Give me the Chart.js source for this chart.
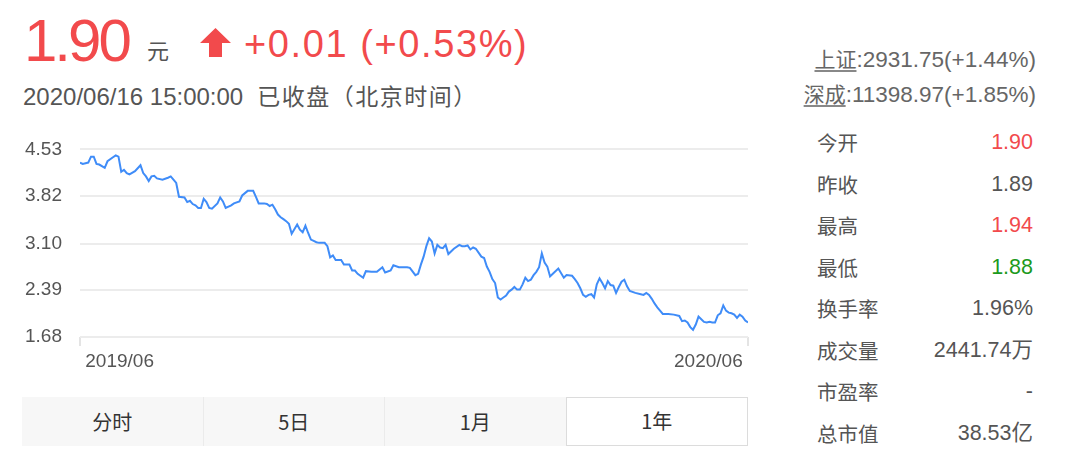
<!DOCTYPE html>
<html>
<head>
<meta charset="utf-8">
<script src="https://cdn.jsdelivr.net/npm/chart.js@4/dist/chart.umd.min.js"></script>
<style>
    body { margin: 0; background: #fff; font-family: "Liberation Sans", Arial, "Noto Sans CJK SC", sans-serif; color: #555; }
    #page { position: relative; width: 1080px; height: 452px; overflow: hidden; }
    .abs { position: absolute; white-space: nowrap; line-height: 1; }
    .red { color: #f24a4c; }
    .green { color: #1c9a1c; }
    .cjk { font-family: "Noto Sans CJK SC", sans-serif; }
    .idx { right: 44px; text-align: right; font-size: 22.5px; color: #666; }
    .idx u { font-size: 21px; text-decoration-color: #888; text-underline-offset: 3px; }
    #quote { position: absolute; left: 817px; top: 122px; width: 216px; }
    #quote .row { display: flex; justify-content: space-between; height: 41.5px; line-height: 41.5px; font-size: 21.5px; }
    #quote .label { font-family: "Noto Sans CJK SC", sans-serif; font-size: 20.5px; color: #555; }
    #tabs { position: absolute; left: 22px; top: 397px; width: 726px; height: 49px; display: flex; }
    #tabs div { flex: 1; background: #f7f7f7; border-left: 1px solid #ebebeb; text-align: center; line-height: 49px; font-size: 20px; color: #333; box-sizing: border-box; }
    #tabs div:first-child { border-left: none; }
    #tabs div.active { background: #fff; border: 1.5px solid #dcdcdc; line-height: 46px; }
    #chartBox { position: absolute; left: 0; top: 120px; width: 760px; height: 260px; }
</style>
</head>
<body>
<div id="page">
    <div class="abs red" style="left:24px; top:11px; font-size:60px; letter-spacing:-3px;">1.90</div>
    <div class="abs cjk" style="left:147px; top:38px; font-size:22px; color:#555;">元</div>
    <svg class="abs" style="left:200px; top:28px;" width="31" height="29" viewBox="0 0 31 29">
        <polygon points="15.5,0 31,15 22,15 22,29 9,29 9,15 0,15" fill="#f24a4c"/>
    </svg>
    <div class="abs red" style="left:244px; top:25px; font-size:38px; letter-spacing:1.6px;">+0.01 (+0.53%)</div>
    <div class="abs" style="left:23px; top:84px; font-size:24px; color:#555;">2020/06/16 15:00:00<span class="cjk" style="font-size:23px; letter-spacing:1.5px; margin-left:14px;">已收盘（北京时间）</span></div>

    <div class="abs idx" style="top:48px;"><u class="cjk">上证</u>:2931.75(+1.44%)</div>
    <div class="abs idx" style="top:83px;"><u class="cjk">深成</u>:11398.97(+1.85%)</div>

    <div id="quote"></div>

    <div id="chartBox"><canvas id="chart" width="760" height="260"></canvas></div>

    <div id="tabs">
        <div class="cjk">分时</div>
        <div class="cjk">5日</div>
        <div class="cjk">1月</div>
        <div class="cjk active">1年</div>
    </div>
</div>

<script>
// trading day number since 2019/06 and close price
const tradingDay = [
    0, 1, 3, 4, 5, 6, 7, 9, 10, 12,
    13, 14, 15, 16, 17, 18, 20, 22, 23, 24,
    25, 26, 27, 28, 30, 32, 33, 34, 35, 36,
    38, 39, 40, 41, 42, 43, 44, 45, 46, 47,
    48, 50, 51, 52, 53, 55, 56, 58, 59, 61,
    63, 64, 65, 67, 68, 69, 70, 71, 72, 73,
    74, 75, 76, 77, 79, 80, 81, 82, 83, 84,
    85, 86, 87, 89, 90, 91, 92, 93, 95, 96,
    98, 99, 100, 101, 103, 104, 106, 108, 110, 111,
    113, 114, 116, 119, 120, 122, 123, 124, 125, 126,
    127, 128, 129, 130, 131, 132, 133, 134, 136, 138,
    139, 140, 141, 142, 143, 144, 146, 147, 148, 149,
    150, 151, 152, 153, 154, 155, 156, 157, 158, 159,
    160, 161, 162, 163, 164, 165, 166, 167, 168, 169,
    170, 171, 172, 174, 176, 177, 179, 180, 181, 182,
    183, 184, 185, 186, 187, 188, 189, 190, 191, 192,
    193, 194, 195, 196, 197, 198, 199, 200, 202, 204,
    205, 206, 207, 208, 209, 210, 211, 212, 214, 216,
    218, 219, 220, 221, 222, 223, 224, 225, 226, 227,
    228, 229, 230, 231, 232, 233, 234, 235, 236, 237,
    238, 239, 240, 241, 242, 243
]
const closePrice = [
    4.33, 4.31, 4.33, 4.42, 4.42, 4.31, 4.30, 4.25, 4.35, 4.41,
    4.44, 4.42, 4.19, 4.22, 4.17, 4.15, 4.20, 4.29, 4.17, 4.12,
    4.05, 4.12, 4.13, 4.09, 4.07, 4.10, 4.12, 4.07, 4.02, 3.81,
    3.80, 3.73, 3.75, 3.70, 3.68, 3.64, 3.64, 3.78, 3.73, 3.64,
    3.63, 3.71, 3.80, 3.74, 3.64, 3.68, 3.71, 3.74, 3.83, 3.90,
    3.90, 3.81, 3.71, 3.71, 3.70, 3.67, 3.69, 3.62, 3.54, 3.50,
    3.47, 3.44, 3.40, 3.25, 3.39, 3.31, 3.27, 3.37, 3.26, 3.16,
    3.14, 3.12, 3.11, 3.11, 3.06, 2.89, 2.92, 2.85, 2.85, 2.78,
    2.78, 2.69, 2.69, 2.64, 2.58, 2.68, 2.67, 2.67, 2.74, 2.66,
    2.69, 2.77, 2.74, 2.74, 2.73, 2.62, 2.64, 2.78, 2.90, 3.06,
    3.18, 3.13, 2.95, 3.08, 3.04, 3.03, 3.08, 2.94, 3.02, 3.08,
    3.06, 3.06, 3.07, 3.01, 3.04, 3.02, 2.90, 2.88, 2.75, 2.67,
    2.56, 2.50, 2.28, 2.25, 2.28, 2.31, 2.37, 2.40, 2.44, 2.40,
    2.40, 2.48, 2.58, 2.53, 2.55, 2.62, 2.67, 2.74, 2.95, 2.81,
    2.75, 2.60, 2.64, 2.72, 2.58, 2.62, 2.61, 2.56, 2.50, 2.42,
    2.32, 2.29, 2.32, 2.33, 2.28, 2.48, 2.57, 2.50, 2.42, 2.53,
    2.47, 2.46, 2.35, 2.44, 2.52, 2.55, 2.45, 2.38, 2.35, 2.33,
    2.32, 2.35, 2.32, 2.26, 2.19, 2.13, 2.08, 2.03, 2.03, 2.02,
    2.00, 1.92, 1.93, 1.90, 1.83, 1.79, 1.87, 1.99, 1.95, 1.91,
    1.90, 1.91, 1.90, 1.90, 2.01, 2.04, 2.16, 2.08, 2.05, 2.04,
    2.02, 1.97, 2.02, 1.99, 1.93, 1.90
]

const yTicks = [1.68, 2.39, 3.10, 3.82, 4.53]
const xTickLabels = ['2019/06', '2020/06']
const lastDay = 243

const quoteLabels = ['今开', '昨收', '最高', '最低', '换手率', '成交量', '市盈率', '总市值']
const quoteValues = ['1.90', '1.89', '1.94', '1.88', '1.96%', '2441.74万', '-', '38.53亿']
const quoteColors = ['red', '', 'red', 'green', '', '', '', '']

const quote = document.getElementById('quote')
quoteLabels.forEach((label, i) => {
    const row = document.createElement('div')
    row.className = 'row'
    row.innerHTML = `<span class="label">${label}</span><span class="${quoteColors[i]}">${quoteValues[i]}</span>`
    quote.appendChild(row)
})

const points = tradingDay.map((d, i) => ({ x: d, y: closePrice[i] }))

new Chart(document.getElementById('chart'), {
    type: 'line',
    data: {
        datasets: [{
            data: points,
            borderColor: '#3f8cf8',
            borderWidth: 2,
            pointRadius: 0,
            tension: 0,
            fill: false
        }]
    },
    options: {
        responsive: false,
        devicePixelRatio: 1,
        animation: false,
        layout: { padding: { top: 18, right: 12, left: 0, bottom: 0 } },
        plugins: { legend: { display: false }, tooltip: { enabled: false } },
        scales: {
            x: {
                type: 'linear',
                min: 0,
                max: lastDay,
                afterBuildTicks: (scale) => { scale.ticks = [{ value: 0 }, { value: lastDay }] },
                afterFit: (scale) => { scale.height = 43 },
                border: { display: false },
                grid: { drawOnChartArea: false, drawTicks: true, tickLength: 9, color: '#e4e4e4', lineWidth: 2 },
                ticks: {
                    align: 'inner',
                    padding: 4,
                    color: '#555',
                    font: { size: 19, family: '"Liberation Sans", Arial' },
                    // a space on the outer side keeps the labels off the end ticks
                    callback: (v) => v === 0 ? ' ' + xTickLabels[0] : xTickLabels[1] + ' '
                }
            },
            y: {
                min: yTicks[0],
                max: yTicks[yTicks.length - 1],
                afterBuildTicks: (scale) => { scale.ticks = yTicks.map(v => ({ value: v })) },
                afterFit: (scale) => { scale.width = 80 },
                border: { display: false },
                grid: { drawTicks: false, color: '#ececec', lineWidth: 2 },
                ticks: {
                    padding: 18,
                    color: '#555',
                    font: { size: 19, family: '"Liberation Sans", Arial' },
                    callback: (v) => v.toFixed(2)
                }
            }
        }
    }
})
</script>
</body>
</html>
